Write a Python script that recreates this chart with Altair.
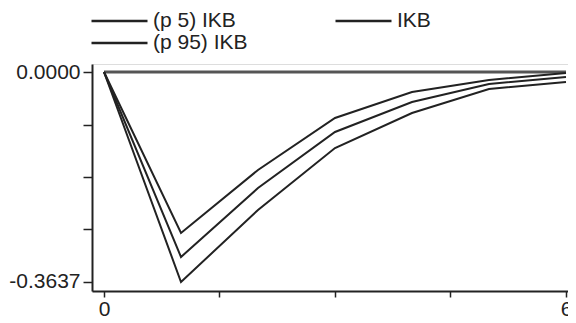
import altair as alt
import pandas as pd

steps = [0, 1, 2, 3, 4, 5, 6]
ikb = [0.0, -0.3204, -0.2009, -0.1039, -0.0520, -0.0208, -0.0087]
ikb_p5 = [0.0, -0.3637, -0.2390, -0.1316, -0.0710, -0.0294, -0.0173]
ikb_p95 = [0.0, -0.2789, -0.1697, -0.0797, -0.0346, -0.0139, -0.0017]
zero_line = [0.0] * len(steps)

series_names = ["(p 5) IKB", "IKB", "(p 95) IKB"]
x_ticks = [0, 1.5, 3, 4.5, 6]
y_ticks = [0.0, -0.090925, -0.18185, -0.272775, -0.3637]

rows = []
for name, vals in zip(series_names, [ikb_p5, ikb, ikb_p95]):
    for s, v in zip(steps, vals):
        rows.append({"step": s, "value": v, "series": name})
df = pd.DataFrame(rows)
zdf = pd.DataFrame({"step": steps, "value": zero_line})

FONT = "Liberation Sans"
FS = 21

x_enc = alt.X("step:Q", scale=alt.Scale(domain=[-0.1558, 6.026], nice=False, zero=False),
              axis=alt.Axis(values=x_ticks, title=None, grid=False, domainColor="#222",
                            domainWidth=2, tickColor="#222", tickWidth=1.5, tickSize=6,
                            labelExpr="datum.value == 0 || datum.value == 6 ? datum.label : ''",
                            labelFont=FONT, labelFontSize=FS, labelColor="#222",
                            labelBaseline="alphabetic", labelPadding=18,
                            labelFlush=False, labelOverlap=False))
y_enc = alt.Y("value:Q", scale=alt.Scale(domain=[-0.3793, 0.01386], nice=False, zero=False),
              axis=alt.Axis(values=y_ticks, title=None, grid=False, domainColor="#222",
                            domainWidth=2, tickColor="#222", tickWidth=1.5, tickSize=9,
                            labelExpr="datum.value == 0 ? '0.0000' : (datum.value < -0.36 ? '-' + format(abs(datum.value), '.4f') : '')",
                            labelFont=FONT, labelFontSize=FS, labelColor="#222",
                            labelPadding=3, labelFlush=False, labelOverlap=False))

zero = alt.Chart(zdf).mark_line(color="#555", strokeWidth=3).encode(x=x_enc, y=y_enc)

lines = alt.Chart(df).mark_line(strokeWidth=2).encode(
    x=x_enc, y=y_enc,
    color=alt.Color("series:N", scale=alt.Scale(domain=series_names, range=["#222", "#222", "#222"]),
                    legend=alt.Legend(title=None, orient="none", legendX=-2, legendY=-53,
                                      columns=2, direction="horizontal",
                                      symbolType="stroke", symbolSize=3136, symbolStrokeWidth=2.5,
                                      symbolStrokeColor="#333", clipHeight=20,
                                      labelFont=FONT, labelFontSize=FS, labelColor="#222",
                                      labelOffset=4, columnPadding=86, rowPadding=1,
                                      labelLimit=300)),
    detail="series:N",
)

chart = alt.layer(zero, lines).properties(
    width=476, height=227,
    autosize=alt.AutoSizeParams(type="none"),
    padding={"left": 84, "top": 56, "right": 0, "bottom": 25},
).configure_view(stroke=None).configure(background="white")

chart.save("out.html", embed_options={"renderer": "svg", "actions": False})
